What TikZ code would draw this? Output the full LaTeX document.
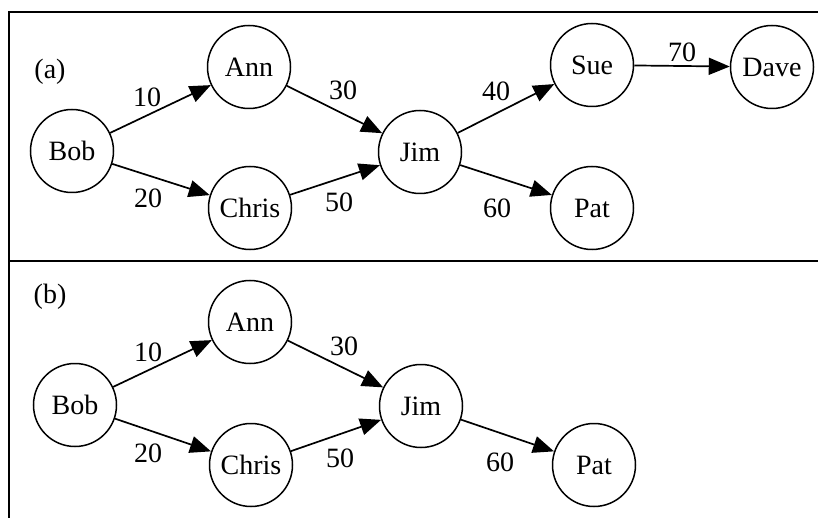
\documentclass[tikz,border=0pt]{standalone}
\usepackage{fontspec}
\setmainfont{Liberation Serif}
\usetikzlibrary{arrows.meta}

\tikzset{
    person/.style={draw, circle, line width=1.5pt, minimum size=83pt, inner sep=0pt,
        font=\fontsize{28}{30}\selectfont},
    link/.style={line width=1.7pt, -{Triangle[length=21pt,width=17pt]}},
    weight/.style={font=\fontsize{28}{30}\selectfont}
}

\begin{document}
\begin{tikzpicture}[x=1pt,y=-1pt]
\useasboundingbox (0,0) rectangle (818,518);
\coordinate (topL) at (9,12);
\coordinate (topR) at (818,12);
\coordinate (midL) at (9,261);
\coordinate (midR) at (818,261);
\coordinate (botL) at (9,518);
\draw[line width=2pt] (topR)--(topL)--(botL);
\draw[line width=2pt] (midL)--(midR);

% (a)
\node[weight] (tagA) at (50,72) {(a)};
\node[person] (bobA) at (72,151) {Bob};
\node[person] (annA) at (249,67) {Ann};
\node[person] (chrisA) at (250,208) {Chris};
\node[person] (jimA) at (420,152) {Jim};
\node[person] (sueA) at (592,65) {Sue};
\node[person] (patA) at (592,208) {Pat};
\node[person] (daveA) at (772,67) {Dave};
\draw[link] (bobA)--(annA);
\draw[link] (bobA)--(chrisA);
\draw[link] (annA)--(jimA);
\draw[link] (chrisA)--(jimA);
\draw[link] (jimA)--(sueA);
\draw[link] (jimA)--(patA);
\draw[link] (sueA)--(daveA);
\node[weight] (w10A) at (147,97) {10};
\node[weight] (w20A) at (148,198) {20};
\node[weight] (w30A) at (343,90) {30};
\node[weight] (w50A) at (339,202) {50};
\node[weight] (w40A) at (496,91) {40};
\node[weight] (w60A) at (497,208) {60};
\node[weight] (w70A) at (682,52) {70};

% (b)
\node[weight] (tagB) at (50,297) {(b)};
\node[person] (bobB) at (75,405) {Bob};
\node[person] (annB) at (250,322) {Ann};
\node[person] (chrisB) at (251,465) {Chris};
\node[person] (jimB) at (421,406) {Jim};
\node[person] (patB) at (594,465) {Pat};
\draw[link] (bobB)--(annB);
\draw[link] (bobB)--(chrisB);
\draw[link] (annB)--(jimB);
\draw[link] (chrisB)--(jimB);
\draw[link] (jimB)--(patB);
\node[weight] (w10B) at (148,352) {10};
\node[weight] (w20B) at (148,453) {20};
\node[weight] (w30B) at (344,346) {30};
\node[weight] (w50B) at (340,458) {50};
\node[weight] (w60B) at (500,462) {60};
\end{tikzpicture}
\end{document}
